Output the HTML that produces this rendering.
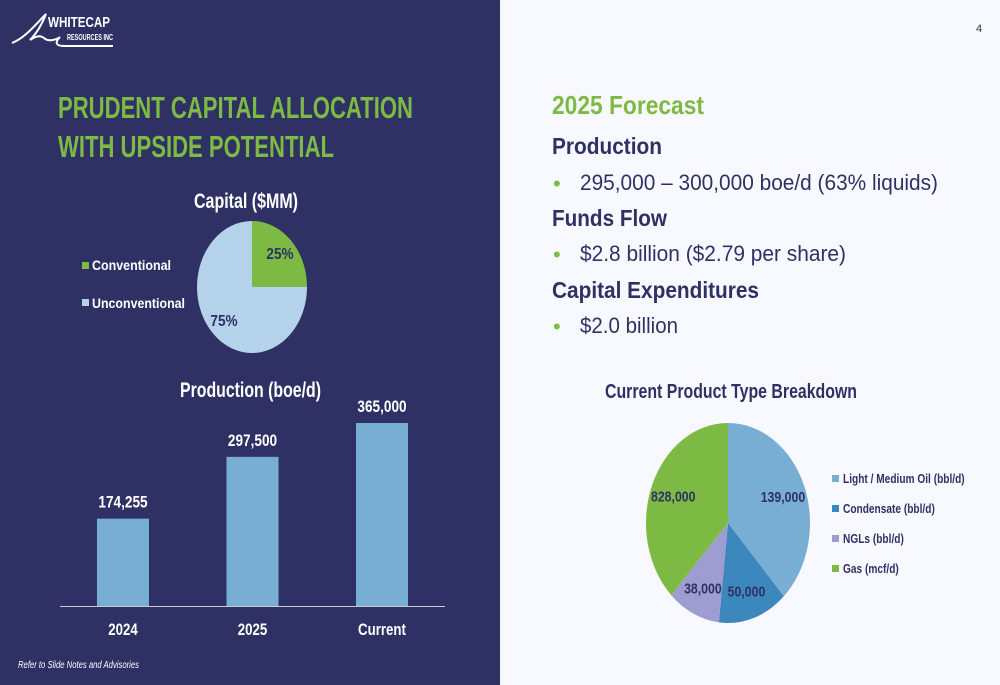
<!DOCTYPE html>
<html><head><meta charset="utf-8"><style>
body{margin:0;width:1000px;height:685px;overflow:hidden;font-family:"Liberation Sans",sans-serif;background:#f8f9fe;position:relative}
.l{position:absolute;left:0;top:0;width:500px;height:685px;background:#2f3165}
</style></head><body>
<div class="l"></div>
<svg width="1000" height="685" style="position:absolute;left:0;top:0" font-family="Liberation Sans, sans-serif">
<g>
<path d="M12 43 C25 38 35 25 46 14 C42 24 36 34 30 40 C36 36 40 35 44 38 C48 42 56 40 60 37 C55 42 55 46 64 46 L113 46" fill="none" stroke="#fff" stroke-width="2"/>
<text x="48" y="27" fill="#fff" font-size="15" font-weight="bold" textLength="62" lengthAdjust="spacingAndGlyphs">WHITECAP</text>
<text x="67" y="40" fill="#fff" font-size="8" font-weight="bold" textLength="46" lengthAdjust="spacingAndGlyphs">RESOURCES INC</text>
</g>
<text x="976" y="32" font-size="11" fill="#333">4</text>
<g font-weight="bold" fill="#7dba43" font-size="31">
<text x="58" y="118" textLength="355" lengthAdjust="spacingAndGlyphs">PRUDENT CAPITAL ALLOCATION</text>
<text x="58" y="157" textLength="276" lengthAdjust="spacingAndGlyphs">WITH UPSIDE POTENTIAL</text>
</g>
<text x="194" y="208" fill="#fff" font-size="21" font-weight="bold" textLength="104" lengthAdjust="spacingAndGlyphs">Capital ($MM)</text>
<g id="capPie"></g>
<g font-size="14" font-weight="bold" fill="#fff">
<rect x="82" y="262" width="7" height="7" fill="#7dba43"/><text x="92" y="270" textLength="79" lengthAdjust="spacingAndGlyphs">Conventional</text>
<rect x="82" y="299" width="7" height="7" fill="#b4d3ea"/><text x="92" y="308" textLength="93" lengthAdjust="spacingAndGlyphs">Unconventional</text>
</g>
<text x="180" y="397" fill="#fff" font-size="21" font-weight="bold" textLength="141" lengthAdjust="spacingAndGlyphs">Production (boe/d)</text>
<g id="bars"></g>
<line x1="60" y1="606.5" x2="445" y2="606.5" stroke="#c8c8d8" stroke-width="1"/>
<text x="18" y="668" fill="#fff" font-size="10" font-style="italic" textLength="121" lengthAdjust="spacingAndGlyphs">Refer to Slide Notes and Advisories</text>
<g fill="#2f3165" font-weight="bold">
<text x="552" y="114" fill="#7dba43" font-size="26" textLength="152" lengthAdjust="spacingAndGlyphs">2025 Forecast</text>
<text x="552" y="154" font-size="23" textLength="110" lengthAdjust="spacingAndGlyphs">Production</text>
<text x="552" y="226" font-size="23" textLength="115" lengthAdjust="spacingAndGlyphs">Funds Flow</text>
<text x="552" y="298" font-size="23" textLength="207" lengthAdjust="spacingAndGlyphs">Capital Expenditures</text>
</g>
<g font-size="22" fill="#2f3165">
<text x="553" y="191" fill="#7dba43" font-size="22">•</text><text x="580" y="190" textLength="358" lengthAdjust="spacingAndGlyphs">295,000 – 300,000 boe/d (63% liquids)</text>
<text x="553" y="262" fill="#7dba43" font-size="22">•</text><text x="580" y="261" textLength="266" lengthAdjust="spacingAndGlyphs">$2.8 billion ($2.79 per share)</text>
<text x="553" y="334" fill="#7dba43" font-size="22">•</text><text x="580" y="333" textLength="98" lengthAdjust="spacingAndGlyphs">$2.0 billion</text>
</g>
<text x="605" y="398" fill="#2f3165" font-size="20" font-weight="bold" textLength="252" lengthAdjust="spacingAndGlyphs">Current Product Type Breakdown</text>
<g id="prodPie"></g>
<g id="prodLegend" font-size="13" font-weight="bold" fill="#2f3165"></g>
</svg>
<script>
const NS="http://www.w3.org/2000/svg";
function mk(p,t,a){const e=document.createElementNS(NS,t);for(const k in a)e.setAttribute(k,a[k]);p.appendChild(e);return e;}
function squeeze(t,f){const L=t.getComputedTextLength();t.setAttribute("textLength",L*f);t.setAttribute("lengthAdjust","spacingAndGlyphs");}
const capLabels=["Conventional","Unconventional"];
const capValues=[25,75];
const capColors=["#7dba43","#b4d3ea"];
const barCats=["2024","2025","Current"];
const barValues=[174255,297500,365000];
const prodLabels=["Light / Medium Oil (bbl/d)","Condensate (bbl/d)","NGLs (bbl/d)","Gas (mcf/d)"];
const prodValues=[139000,50000,38000,828000];
const prodBoeFactor=[1,1,1,1/6];
const prodColors=["#79aed4","#3c88bd","#9d9dd1","#7dba43"];

function pie(g,vals,colors,cx,cy,rx,ry,labels,labelColor,fs,labelR,sq){
  const tot=vals.reduce((a,b)=>a+b,0);let a0=0;
  vals.forEach((v,i)=>{
    const a1=a0+v/tot*2*Math.PI;
    const p=a=>[cx+rx*Math.sin(a),cy-ry*Math.cos(a)];
    const [x0,y0]=p(a0),[x1,y1]=p(a1);
    const path=mk(g,"path",{d:`M${cx} ${cy}L${x0} ${y0}A${rx} ${ry} 0 ${a1-a0>Math.PI?1:0} 1 ${x1} ${y1}Z`,fill:colors[i]});
    
    
    const am=(a0+a1)/2;
    const t=mk(g,"text",{x:cx+rx*labelR*Math.sin(am),y:cy-ry*labelR*Math.cos(am)+fs*0.35,"text-anchor":"middle",fill:labelColor,"font-size":fs,"font-weight":"bold"});
    t.textContent=labels[i];
    
    
    squeeze(t,sq);
    a0=a1;
  });
}
pie(document.getElementById("capPie"),capValues,capColors,252,287,55,66,capValues.map(v=>v+"%"),"#2f3165",16,0.72,0.85);
const boe=prodValues.map((v,i)=>v*prodBoeFactor[i]);
pie(document.getElementById("prodPie"),boe,prodColors,728,523,82,100,prodValues.map(v=>v.toLocaleString("en-US")),"#2f3165",15,0.72,0.82);

const bg=document.getElementById("bars");
const base=606,maxV=365000,maxH=183;
const y=v=>base-v/maxV*maxH;
const x0=97,step=129.5,bw=52;
barCats.forEach((c,i)=>{
  const x=x0+i*step;
  const r=mk(bg,"rect",{x:x,y:y(barValues[i]),width:bw,height:base-y(barValues[i]),fill:"#79aed4"});
  
  
  const t=mk(bg,"text",{x:x+bw/2,y:y(barValues[i])-11,"text-anchor":"middle",fill:"#fff","font-size":17,"font-weight":"bold"});
  t.textContent=barValues[i].toLocaleString("en-US");
  
  
  squeeze(t,0.8);
  const l=mk(bg,"text",{x:x+bw/2,y:635,"text-anchor":"middle",fill:"#fff","font-size":17,"font-weight":"bold"});
  l.textContent=c;
  
  
  squeeze(l,0.78);
});
const lg=document.getElementById("prodLegend");
prodLabels.forEach((s,i)=>{
  const yy=483+i*30;
  const r=mk(lg,"rect",{x:832,y:yy-8,width:7,height:7,fill:prodColors[i]});
  
  
  const t=mk(lg,"text",{x:843,y:yy});
  t.textContent=s;
  
  
  squeeze(t,0.78);
});
</script>
</body></html>
